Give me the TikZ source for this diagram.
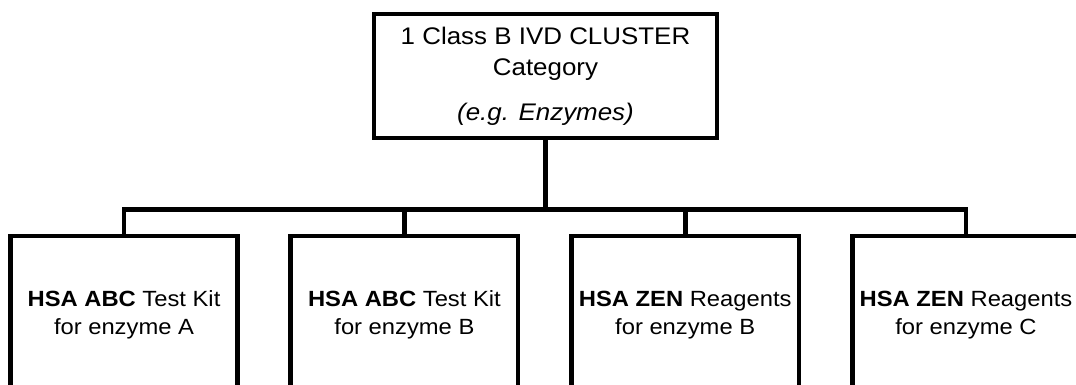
\documentclass[tikz,border=0pt]{standalone}
\usepackage{fontspec}
\setmainfont{Liberation Sans}[FakeStretch=1.08]
\begin{document}
\begin{tikzpicture}[x=1pt,y=-1pt,
  box/.style={draw=black,line width=4.6pt,fill=white,inner sep=0pt,align=center},
  topbox/.style={box,minimum width=343pt,minimum height=124pt,font=\fontsize{24}{31}\selectfont},
  kitbox/.style={box,minimum width=227.5pt,minimum height=158.6pt,font=\fontsize{22}{28}\selectfont},
  conn/.style={draw=black,line width=4.6pt}]
\useasboundingbox (0,0) rectangle (1076,385);
\clip (0,0) rectangle (1076,385);
\fill[white] (0,0) rectangle (1076,385);
\node[topbox] (top) at (545.5,76) {1 Class B IVD CLUSTER\\Category\\[14pt]\textit{(e.g. Enzymes)}};
\node[kitbox] (b1) at (124,315.3) {\textbf{HSA ABC} Test Kit\\for enzyme A};
\node[kitbox] (b2) at (404.4,315.3) {\textbf{HSA ABC} Test Kit\\for enzyme B};
\node[kitbox] (b3) at (685.2,315.3) {\textbf{HSA ZEN} Reagents\\for enzyme B};
\node[kitbox] (b4) at (966,315.3) {\textbf{HSA ZEN} Reagents\\for enzyme C};
\coordinate (bus) at (545.5,209.5);
\draw[conn] (top.south) -- (bus);
\draw[conn] (b1.north) -- (b1.north |- bus) -- (b4.north |- bus) -- (b4.north);
\draw[conn] (b2.north) -- (b2.north |- bus);
\draw[conn] (b3.north) -- (b3.north |- bus);
\end{tikzpicture}
\end{document}
